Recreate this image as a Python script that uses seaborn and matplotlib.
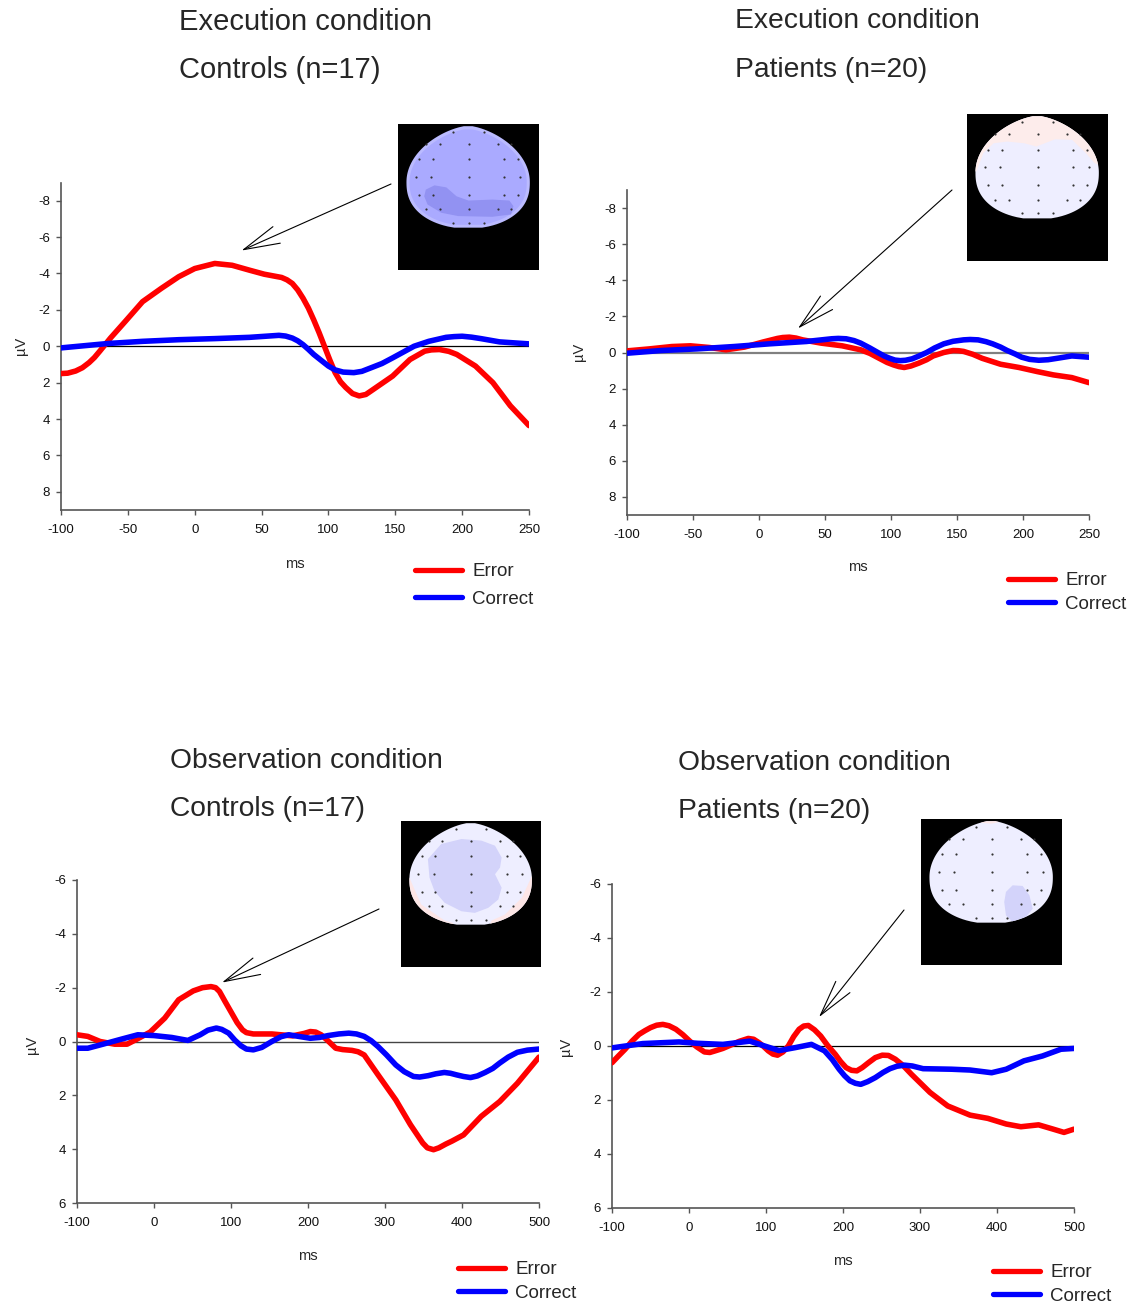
import numpy as np
import pandas as pd
import matplotlib
matplotlib.use("Agg")
import matplotlib.pyplot as plt
from matplotlib.patches import Polygon
import seaborn as sns

FIG_W, FIG_H = 1144, 1306

# ERP waveforms: time (ms) and amplitude (uV)
exec_ctrl_err_t = [-100, -95, -89, -84, -79, -75, -71, -63, -52, -39, -25, -12, 0, 15, 28, 41, 52, 65,
                   69, 73, 77, 81, 85, 89, 93, 97, 101, 105, 109, 113, 118, 123, 128, 132, 148, 161,
                   172, 177, 183, 190, 196, 210, 223, 236, 250]
exec_ctrl_err_v = [1.5, 1.48, 1.36, 1.18, 0.9, 0.62, 0.27, -0.45, -1.36, -2.45, -3.18, -3.82, -4.27,
                   -4.55, -4.45, -4.18, -3.96, -3.78, -3.65, -3.45, -3.1, -2.64, -2.1, -1.45, -0.75,
                   0.0, 0.75, 1.45, 1.95, 2.27, 2.6, 2.73, 2.65, 2.45, 1.64, 0.73, 0.27, 0.2, 0.18,
                   0.28, 0.45, 1.09, 2.0, 3.27, 4.36]
exec_ctrl_cor_t = [-100, -65, -39, -12, 15, 41, 63, 68, 73, 77, 81, 85, 89, 95, 100, 105, 111, 119,
                   125, 132, 140, 148, 156, 164, 175, 188, 194, 200, 207, 214, 228, 250]
exec_ctrl_cor_v = [0.09, -0.15, -0.27, -0.36, -0.42, -0.49, -0.6, -0.56, -0.45, -0.3, -0.09, 0.17,
                   0.45, 0.8, 1.09, 1.3, 1.42, 1.45, 1.38, 1.18, 0.95, 0.64, 0.32, 0.0, -0.27, -0.49,
                   -0.53, -0.55, -0.5, -0.42, -0.24, -0.13]

exec_pat_err_t = [-100, -83, -66, -52, -38, -25, -11, 3, 14, 18, 23, 28, 33, 47, 63, 77, 84, 91, 97,
                  102, 106, 110, 115, 121, 127, 132, 140, 147, 151, 155, 162, 169, 183, 197, 211,
                  223, 237, 250]
exec_pat_err_v = [-0.09, -0.2, -0.33, -0.37, -0.28, -0.15, -0.3, -0.58, -0.78, -0.83, -0.85, -0.8,
                  -0.7, -0.52, -0.37, -0.15, 0.05, 0.32, 0.55, 0.69, 0.78, 0.83, 0.75, 0.59, 0.4,
                  0.19, 0.0, -0.11, -0.1, -0.06, 0.1, 0.32, 0.65, 0.83, 1.06, 1.24, 1.39, 1.67]
exec_pat_cor_t = [-100, -74, -47, -19, 8, 36, 55, 60, 66, 72, 77, 84, 91, 95, 99, 103, 107, 111,
                  116, 121, 127, 133, 140, 147, 155, 160, 166, 172, 177, 183, 188, 194, 199, 205,
                  212, 219, 226, 237, 250]
exec_pat_cor_v = [0.04, -0.11, -0.2, -0.33, -0.48, -0.61, -0.76, -0.78, -0.76, -0.66, -0.52, -0.25,
                  0.04, 0.2, 0.32, 0.42, 0.45, 0.43, 0.35, 0.2, 0.0, -0.25, -0.48, -0.62, -0.7,
                  -0.72, -0.7, -0.6, -0.48, -0.3, -0.11, 0.08, 0.26, 0.38, 0.43, 0.4, 0.32, 0.19, 0.26]

obs_ctrl_err_t = [-100, -86, -70, -51, -35, -24, -5, 14, 32, 51, 63, 74, 80, 85, 92, 101, 108, 115,
                  120, 129, 153, 180, 195, 203, 210, 217, 225, 236, 245, 257, 265, 273, 291, 314,
                  333, 349, 355, 363, 370, 379, 387, 402, 425, 449, 472, 500]
obs_ctrl_err_v = [-0.25, -0.19, 0.0, 0.1, 0.1, -0.06, -0.35, -0.87, -1.55, -1.88, -2.0, -2.04, -2.0,
                  -1.86, -1.5, -1.05, -0.7, -0.43, -0.33, -0.28, -0.28, -0.21, -0.3, -0.37, -0.35,
                  -0.25, -0.05, 0.25, 0.3, 0.33, 0.38, 0.5, 1.24, 2.17, 3.09, 3.77, 3.95, 4.02,
                  3.95, 3.81, 3.7, 3.47, 2.78, 2.23, 1.55, 0.58]
obs_ctrl_cor_t = [-100, -86, -65, -42, -21, 0, 23, 44, 60, 70, 81, 88, 97, 105, 113, 120, 129, 140,
                  153, 165, 175, 190, 203, 215, 226, 240, 253, 263, 273, 282, 291, 302, 314, 325,
                  337, 345, 356, 366, 377, 385, 393, 402, 411, 420, 430, 440, 449, 460, 472, 485, 500]
obs_ctrl_cor_v = [0.25, 0.25, 0.09, -0.09, -0.25, -0.22, -0.15, -0.04, -0.25, -0.42, -0.5, -0.45,
                  -0.31, -0.05, 0.16, 0.28, 0.31, 0.22, 0.0, -0.18, -0.25, -0.18, -0.12, -0.15,
                  -0.22, -0.28, -0.31, -0.28, -0.19, -0.03, 0.19, 0.5, 0.87, 1.12, 1.3, 1.32, 1.27,
                  1.2, 1.15, 1.18, 1.24, 1.3, 1.34, 1.28, 1.15, 1.0, 0.8, 0.58, 0.4, 0.32, 0.28]

obs_pat_err_t = [-100, -92, -83, -74, -65, -57, -50, -42, -34, -26, -17, -8, 1, 10, 20, 27, 34, 44,
                 53, 65, 77, 84, 91, 97, 103, 109, 115, 122, 129, 136, 143, 149, 155, 163, 171, 180,
                 190, 197, 204, 211, 218, 225, 233, 242, 251, 259, 268, 278, 289, 313, 336, 365,
                 388, 412, 431, 454, 473, 487, 500]
obs_pat_err_v = [0.62, 0.38, 0.12, -0.18, -0.43, -0.57, -0.68, -0.77, -0.8, -0.75, -0.62, -0.42,
                 -0.18, 0.03, 0.22, 0.24, 0.18, 0.09, -0.02, -0.17, -0.28, -0.25, -0.12, 0.02, 0.18,
                 0.3, 0.34, 0.22, 0.0, -0.35, -0.62, -0.74, -0.76, -0.6, -0.37, -0.02, 0.31, 0.58,
                 0.8, 0.9, 0.92, 0.8, 0.62, 0.43, 0.34, 0.35, 0.49, 0.72, 1.05, 1.72, 2.22, 2.56,
                 2.68, 2.89, 2.99, 2.92, 3.08, 3.2, 3.08]
obs_pat_cor_t = [-100, -60, -13, 11, 44, 79, 96, 117, 138, 159, 176, 186, 195, 202, 209, 216, 223,
                 232, 242, 252, 261, 270, 280, 290, 304, 341, 365, 393, 412, 435, 459, 483, 500]
obs_pat_cor_v = [0.07, -0.09, -0.15, -0.1, -0.06, -0.18, -0.02, 0.17, 0.06, -0.06, 0.18, 0.5, 0.86,
                 1.1, 1.29, 1.38, 1.42, 1.32, 1.17, 0.98, 0.84, 0.75, 0.71, 0.74, 0.84, 0.86, 0.89,
                 0.99, 0.86, 0.55, 0.37, 0.12, 0.09]

conditions = ["Error", "Correct"]
palette = {"Error": "#ff0000", "Correct": "#0000ff"}

# electrode grid of the scalp maps (normalised head coords)
electrodes = [
    (0.378, 0.945), (0.627, 0.945),
    (0.157, 0.821), (0.268, 0.821), (0.503, 0.821), (0.738, 0.821), (0.848, 0.821),
    (0.102, 0.674), (0.213, 0.674), (0.503, 0.674), (0.793, 0.674), (0.903, 0.674),
    (0.074, 0.498), (0.199, 0.498), (0.503, 0.498), (0.793, 0.498), (0.917, 0.498),
    (0.102, 0.326), (0.213, 0.326), (0.503, 0.326), (0.793, 0.326), (0.903, 0.326),
    (0.157, 0.179), (0.268, 0.179), (0.503, 0.179), (0.738, 0.179), (0.848, 0.179),
    (0.378, 0.049), (0.503, 0.049), (0.627, 0.049),
]

panels = [
    dict(title=("Execution condition", "Controls (n=17)"), tx=179, ty=(22, 70), tsize=21,
         err=(exec_ctrl_err_t, exec_ctrl_err_v), cor=(exec_ctrl_cor_t, exec_ctrl_cor_v),
         box=(61, 529, 182.5, 510), ylim=9, yticks=range(-8, 9, 2), xticks=range(-100, 251, 50),
         zero=("#000000", 0.9), ms=(295, 564), uv=(21, 346), leg=(415, 563, 0.57),
         tip=(35, -5.26), tail=(391, 184), inset=(398, 539, 124, 270),
         head="#aaaaff", ring="#bbbbff",
         blobs=[("#9292f2", [(0.157, 0.375), (0.227, 0.417), (0.323, 0.397), (0.406, 0.309),
                             (0.503, 0.267), (0.696, 0.277), (0.834, 0.267), (0.867, 0.212),
                             (0.848, 0.130), (0.696, 0.107), (0.420, 0.114), (0.282, 0.147),
                             (0.171, 0.228), (0.144, 0.309)])]),
    dict(title=("Execution condition", "Patients (n=20)"), tx=735, ty=(21, 70), tsize=20.3,
         err=(exec_pat_err_t, exec_pat_err_v), cor=(exec_pat_cor_t, exec_pat_cor_v),
         box=(627, 1089, 190, 515), ylim=9, yticks=range(-8, 9, 2), xticks=range(-100, 251, 50),
         zero=("#808080", 1.6), ms=(858, 567), uv=(579, 352), leg=(1008, 572, 0.36),
         tip=(29.5, -1.33), tail=(952, 190), inset=(967, 1108, 114, 261),
         head="#eeeeff", ring=None,
         blobs=[("#fdeceb", [(-0.05, 0.45), (0.008, 0.461), (0.064, 0.639), (0.147, 0.735),
                             (0.258, 0.752), (0.396, 0.735), (0.493, 0.703), (0.645, 0.774),
                             (0.784, 0.768), (0.895, 0.639), (0.964, 0.542), (1.05, 0.5),
                             (1.05, 1.1), (-0.05, 1.1)])]),
    dict(title=("Observation condition", "Controls (n=17)"), tx=170, ty=(761, 809), tsize=20.3,
         err=(obs_ctrl_err_t, obs_ctrl_err_v), cor=(obs_ctrl_cor_t, obs_ctrl_cor_v),
         box=(77, 539, 880, 1203), ylim=6, yticks=range(-6, 7, 2), xticks=range(-100, 501, 100),
         zero=("#444444", 1.0), ms=(308, 1256), uv=(32, 1045), leg=(458, 1261, 0.36),
         tip=(88.3, -2.19), tail=(379, 909), inset=(401, 541, 821, 967),
         head="#eeeeff", ring=None,
         blobs=[("#fde6e6", [(-0.05, 0.47), (0.0, 0.464), (0.096, 0.199), (0.288, 0.04),
                             (0.356, 0.017), (0.36, -0.05), (-0.05, -0.05)]),
                ("#fde6e6", [(1.05, 0.49), (1.0, 0.48), (0.918, 0.265), (0.78, 0.1),
                             (0.67, 0.04), (0.64, -0.05), (1.05, -0.05)]),
                ("#d3d3fa", [(0.151, 0.646), (0.260, 0.795), (0.425, 0.844), (0.589, 0.828),
                             (0.699, 0.778), (0.753, 0.662), (0.740, 0.563), (0.699, 0.497),
                             (0.753, 0.364), (0.726, 0.248), (0.644, 0.166), (0.534, 0.116),
                             (0.425, 0.132), (0.288, 0.215), (0.205, 0.331), (0.164, 0.464)])]),
    dict(title=("Observation condition", "Patients (n=20)"), tx=678, ty=(763, 811), tsize=20.3,
         err=(obs_pat_err_t, obs_pat_err_v), cor=(obs_pat_cor_t, obs_pat_cor_v),
         box=(612, 1074, 884, 1208), ylim=6, yticks=range(-6, 7, 2), xticks=range(-100, 501, 100),
         zero=("#000000", 0.9), ms=(843, 1261), uv=(566, 1047), leg=(993, 1264, 0.36),
         tip=(168.8, -1.07), tail=(904, 910), inset=(921, 1062, 819, 965),
         head="#eeeeff", ring=None,
         blobs=[("#fde8e8", [(0.4, 1.1), (0.42, 0.985), (0.5, 0.975), (0.56, 0.99), (0.58, 1.1)]),
                ("#d3d3fa", [(0.620, 0.303), (0.674, 0.368), (0.755, 0.362), (0.810, 0.270),
                             (0.837, 0.138), (0.783, 0.056), (0.674, 0.007), (0.620, 0.072),
                             (0.606, 0.204)])]),
]


def fx(x):
    return x / FIG_W


def fy(y):
    return 1 - y / FIG_H


def head_outline(n=90):
    # dome: narrow at the nose end, wider and flatter towards the back
    ys = np.linspace(0, 1, n)
    top = 0.5 * np.clip(1 - ((ys - 0.45) / 0.555) ** 2, 0, 1) ** 0.66
    bot = 0.5 * np.sqrt(np.clip(1 - np.abs((0.45 - ys) / 0.46) ** 2.4, 0, 1))
    hw = np.where(ys >= 0.45, top, bot)
    right = np.column_stack([0.5 + hw, ys])
    left = np.column_stack([0.5 - hw, ys])[::-1]
    return np.vstack([right, left])


def to_inset(pts):
    pts = np.asarray(pts, dtype=float)
    return np.column_stack([0.06 + pts[:, 0] * 0.875, 0.29 + pts[:, 1] * 0.695])


def draw_scalp(fig, p):
    l, r, t, b = p["inset"]
    ax = fig.add_axes([fx(l), fy(b), fx(r - l), (b - t) / FIG_H])
    ax.set_facecolor("black")
    ax.set_xlim(0, 1)
    ax.set_ylim(0, 1)
    ax.set_xticks([])
    ax.set_yticks([])
    for s in ax.spines.values():
        s.set_visible(False)
    outline = head_outline()
    head = Polygon(to_inset(outline), closed=True, fc=p["ring"] or p["head"], ec="none")
    ax.add_patch(head)
    if p["ring"]:
        inner = outline.copy()
        inner[:, 0] = 0.5 + (inner[:, 0] - 0.5) * 0.95
        inner[:, 1] = 0.47 + (inner[:, 1] - 0.47) * 0.94
        ax.add_patch(Polygon(to_inset(inner), closed=True, fc=p["head"], ec="none"))
    for color, pts in p["blobs"]:
        blob = Polygon(to_inset(pts), closed=True, fc=color, ec="none")
        ax.add_patch(blob)
        blob.set_clip_path(head)
    el = to_inset(electrodes)
    ax.scatter(el[:, 0], el[:, 1], s=2.5, c="#333333", linewidths=0, zorder=5)


sns.set_theme(style="white")
plt.rcParams["font.family"] = ["Liberation Sans", "DejaVu Sans"]
plt.rcParams["axes.unicode_minus"] = False

fig = plt.figure(figsize=(FIG_W / 100, FIG_H / 100), dpi=100)

for p in panels:
    l, r, t, b = p["box"]
    ax = fig.add_axes([fx(l), fy(b), fx(r - l), (b - t) / FIG_H])

    df = pd.concat([
        pd.DataFrame({"ms": p["err"][0], "uv": p["err"][1], "cond": "Error"}),
        pd.DataFrame({"ms": p["cor"][0], "uv": p["cor"][1], "cond": "Correct"}),
    ], ignore_index=True)

    ax.axhline(0, color=p["zero"][0], lw=p["zero"][1], zorder=1)
    sns.lineplot(data=df, x="ms", y="uv", hue="cond", hue_order=conditions, palette=palette,
                 estimator=None, lw=4, solid_capstyle="round", solid_joinstyle="round",
                 ax=ax, zorder=3)

    xt = list(p["xticks"])
    ax.set_xlim(xt[0], xt[-1])
    ax.set_ylim(p["ylim"], -p["ylim"])
    ax.set_xticks(xt)
    ax.set_yticks(list(p["yticks"]))
    ax.set_xlabel("")
    ax.set_ylabel("")
    sns.despine(ax=ax)
    for side in ("left", "bottom"):
        ax.spines[side].set_color("#555555")
        ax.spines[side].set_linewidth(1.2)
    ax.tick_params(axis="both", direction="out", length=3.5, width=1, colors="#555555",
                   labelcolor="#111111", labelsize=9.5, left=True, bottom=True)
    ax.tick_params(axis="x", pad=6.5)
    ax.tick_params(axis="y", pad=4.5)

    handles, labels = ax.get_legend_handles_labels()
    lx, ly, lsp = p["leg"]
    leg = ax.legend(handles, labels, loc="upper left", bbox_to_anchor=(fx(lx), fy(ly)),
                    bbox_transform=fig.transFigure, frameon=False, borderpad=0, borderaxespad=0,
                    handlelength=2.5, handletextpad=0.55, labelspacing=lsp, fontsize=13.5)
    for line in leg.get_lines():
        line.set_linewidth(3.8)

    fig.text(fx(p["tx"]), fy(p["ty"][0]), p["title"][0], fontsize=p["tsize"], ha="left", va="center")
    fig.text(fx(p["tx"]), fy(p["ty"][1]), p["title"][1], fontsize=p["tsize"], ha="left", va="center")
    fig.text(fx(p["ms"][0]), fy(p["ms"][1]), "ms", fontsize=10.5, ha="center", va="center")
    fig.text(fx(p["uv"][0]), fy(p["uv"][1]), "\u00b5V", fontsize=10.5, ha="center", va="center",
             rotation=90)

    ax.annotate("", xy=p["tip"], xycoords="data",
                xytext=(p["tail"][0], FIG_H - p["tail"][1]), textcoords="figure pixels",
                arrowprops=dict(arrowstyle="->,head_length=2.6,head_width=0.65", lw=0.8,
                                color="black", shrinkA=0, shrinkB=0, mutation_scale=10),
                annotation_clip=False)

    draw_scalp(fig, p)

fig.savefig("out.png", dpi=100, facecolor="white")
